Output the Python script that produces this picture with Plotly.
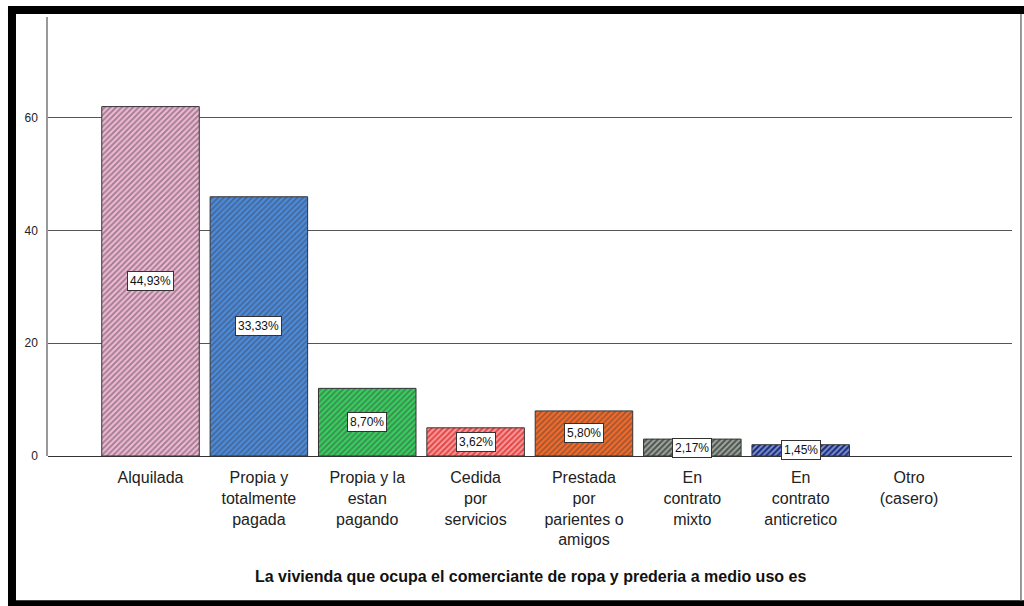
import plotly.graph_objects as go

categories = ["Alquilada", "Propia y<br>totalmente<br>pagada", "Propia y la<br>estan<br>pagando",
              "Cedida<br>por<br>servicios", "Prestada<br>por<br>parientes o<br>amigos",
              "En<br>contrato<br>mixto", "En<br>contrato<br>anticretico", "Otro<br>(casero)"]
counts = [62, 46, 12, 5, 8, 3, 2, 0]
percent_labels = ["44,93%", "33,33%", "8,70%", "3,62%", "5,80%", "2,17%", "1,45%", ""]
colors = ["#F0B6D4", "#4A8BDE", "#36CF5E", "#E84848", "#F46A28", "#505850", "#18308A", "#FFFFFF"]
y_ticks = [0, 20, 40, 60]
x_title = "La vivienda que ocupa el comerciante de ropa y prederia a medio uso es"

xs = list(range(len(categories)))
line_widths = [1 if c > 0 else 0 for c in counts]

fig = go.Figure()
fig.add_trace(go.Bar(
    x=xs, y=counts, width=0.9,
    marker=dict(color=colors, line=dict(color="#333333", width=line_widths),
                pattern=dict(shape="/", fgcolor="#000000", bgcolor=colors, size=4, solidity=0.45)),
    hoverinfo="skip",
))

for xv, c, lab in zip(xs, counts, percent_labels):
    if lab:
        fig.add_annotation(x=xv, y=c / 2, text=lab, showarrow=False,
                           font=dict(family="Liberation Sans, Arial", size=12, color="#111111"),
                           bgcolor="white", bordercolor="#333333", borderwidth=1, borderpad=2)

fig.add_annotation(x=0.5, xref="paper", y=-0.2756, yref="paper", yanchor="middle",
                   text="<b>" + x_title + "</b>",
                   showarrow=False, font=dict(family="Liberation Sans, Arial", size=16, color="#111111"))

# frame
shapes = [
    dict(type="rect", xref="paper", yref="paper", x0=-0.0415, x1=1.02, y0=1.0068, y1=1.025,
         fillcolor="black", line=dict(width=0), layer="above"),
    dict(type="rect", xref="paper", yref="paper", x0=-0.0415, x1=-0.0332, y0=-0.35, y1=1.025,
         fillcolor="black", line=dict(width=0), layer="above"),
    dict(type="rect", xref="paper", yref="paper", x0=-0.0415, x1=1.02, y0=-0.35, y1=-0.3285,
         fillcolor="black", line=dict(width=0), layer="above"),
    dict(type="line", xref="paper", yref="paper", x0=1.0093, x1=1.0093, y0=-0.33, y1=1.007,
         line=dict(color="#777777", width=1.5), layer="above"),
]
fig.update_layout(shapes=shapes)

fig.update_layout(
    width=1024, height=606,
    margin=dict(l=48, r=12, t=17, b=150),
    paper_bgcolor="white", plot_bgcolor="white",
    showlegend=False,
    font=dict(family="Liberation Sans, Arial"),
    xaxis=dict(tickmode="array", tickvals=xs, ticktext=categories, range=[-0.946, 7.95],
               showgrid=False, zeroline=False, showline=False, ticks="",
               tickfont=dict(size=16, color="#222222"), ticklabelstandoff=10),
    yaxis=dict(tickmode="array", tickvals=y_ticks, range=[0, 77.9],
               showgrid=True, gridcolor="#555555", gridwidth=1,
               zeroline=True, zerolinecolor="#333333", zerolinewidth=1,
               showline=True, linecolor="#999999", linewidth=1.5,
               ticks="", tickfont=dict(size=12, color="#222222"), ticklabelstandoff=6),
)

fig.write_html("out.html", config={"displayModeBar": False},
               post_script="document.body.style.margin='0';document.body.style.overflow='hidden';")
